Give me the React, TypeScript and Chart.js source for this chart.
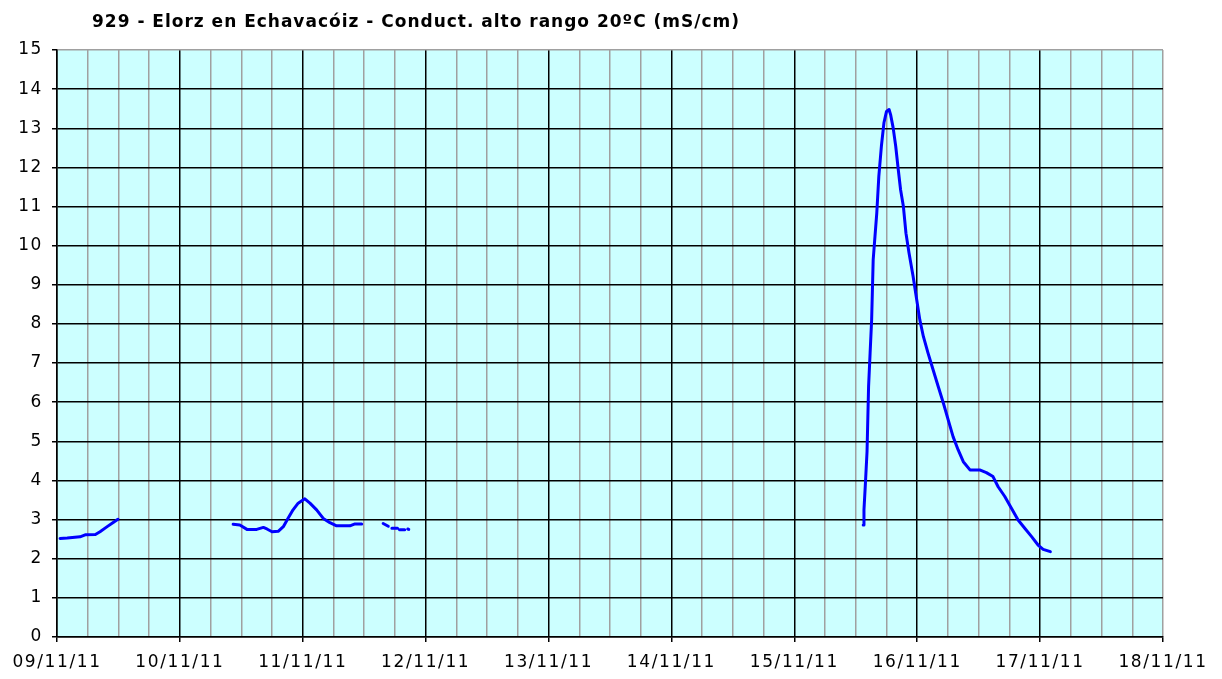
import { useEffect, useRef } from "react";
import { Chart, registerables } from "chart.js";

Chart.register(...registerables);

const TITLE = "929 - Elorz en Echavacóiz - Conduct. alto rango 20ºC (mS/cm)";
const dateLabels = ["09/11/11", "10/11/11", "11/11/11", "12/11/11", "13/11/11", "14/11/11", "15/11/11", "16/11/11", "17/11/11", "18/11/11"];

// hours since 09/11/11 00:00, null value = gap in the record
const hours = [
  0.6, 2, 3.5, 4.5, 5.5, 7.5, 8.4, 9.8, 10.9, 11.9, 20,
  34.4, 35.7, 37.1, 39.0, 40.3, 41.0, 42.0, 43.2, 44.2, 45.1, 46.1, 47.1, 48.4, 49.4, 50.7, 52.0, 53.3, 54.6, 57.2, 58.2, 59.5, 61,
  63.7, 64.7, 65, 65.4, 66.5, 66.7, 66.9, 67.9, 68.2, 68.5, 68.7, 100,
  157.45, 157.6, 157.9, 158.2, 158.5, 158.8, 159.1, 159.4, 159.75, 160.1, 160.5, 161.0, 161.5, 162.0, 162.5, 162.8, 163.3, 163.8,
  164.3, 164.75, 165.3, 165.8, 166.4, 167.2, 167.9, 168.5, 169.2, 170.1, 171.1, 172.1, 173.1, 174.05, 175.0, 176.0, 177.0, 178.3,
  180.2, 181.5, 182.8, 183.8, 185.1, 186.4, 187.7, 189.0, 190.3, 191.6, 192.6, 194.0,
];
const values = [
  2.52, 2.53, 2.55, 2.56, 2.61, 2.62, 2.69, 2.82, 2.92, 3.01, null,
  2.88, 2.86, 2.75, 2.75, 2.80, 2.76, 2.69, 2.70, 2.82, 3.03, 3.25, 3.42, 3.53, 3.42, 3.25, 3.03, 2.92, 2.84, 2.84, 2.89, 2.89, null,
  2.90, 2.83, null, 2.78, 2.78, null, 2.74, 2.74, null, 2.76, 2.75, null,
  2.86, 3.25, 3.97, 4.74, 6.40, 7.26, 8.11, 9.64, 10.24, 10.83, 11.77, 12.54, 13.14, 13.43, 13.48, 13.35, 13.01, 12.54,
  11.94, 11.43, 11.0, 10.32, 9.81, 9.21, 8.62, 8.11, 7.68, 7.26, 6.83, 6.40, 5.98, 5.55, 5.12, 4.78, 4.48, 4.27,
  4.27, 4.20, 4.10, 3.84, 3.59, 3.29, 2.99, 2.78, 2.57, 2.35, 2.24, 2.18,
];

const FONT = "'DejaVu Sans', Verdana, sans-serif";

export default function App() {
  const ref = useRef<HTMLCanvasElement | null>(null);

  useEffect(() => {
    if (!ref.current) return;
    const bgPlugin = {
      id: "bg",
      beforeDraw(chart: any) {
        const { ctx, chartArea } = chart;
        ctx.save();
        ctx.fillStyle = "#ccffff";
        ctx.fillRect(chartArea.left, chartArea.top, chartArea.right - chartArea.left, chartArea.bottom - chartArea.top);
        ctx.restore();
        (ctx as any).letterSpacing = "1.6px";
      },
    };
    const titlePlugin = {
      id: "leftTitle",
      afterDraw(chart: any) {
        const ctx = chart.ctx;
        ctx.save();
        ctx.fillStyle = "#000";
        ctx.font = `bold 17px ${FONT}`;
        (ctx as any).letterSpacing = "0px";
        const w = ctx.measureText(TITLE).width;
        const ls = (648 - w) / TITLE.length;
        (ctx as any).letterSpacing = `${ls}px`;
        ctx.textBaseline = "alphabetic";
        ctx.textAlign = "left";
        ctx.fillText(TITLE, 92, 27);
        ctx.restore();
      },
    };
    const chart = new Chart(ref.current, {
      type: "line",
      data: {
        datasets: [
          {
            data: hours.map((h, i) => ({ x: h, y: values[i] })) as any,
            borderColor: "#0000ff",
            borderWidth: 3,
            pointRadius: 0,
            tension: 0,
            spanGaps: false,
            borderJoinStyle: "round",
            borderCapStyle: "round",
          },
        ],
      },
      options: {
        responsive: false,
        animation: false,
        layout: { padding: { top: 50, left: 0, right: 59, bottom: 0 } },
        plugins: { legend: { display: false }, title: { display: false }, tooltip: { enabled: false } },
        scales: {
          x: {
            type: "linear",
            min: 0,
            max: 216,
            afterFit: (s: any) => { s.height = 42; },
            afterBuildTicks: (s: any) => {
              const t = [];
              for (let v = 0; v <= 216; v += 6) t.push({ value: v });
              s.ticks = t;
            },
            ticks: {
              autoSkip: false,
              maxRotation: 0,
              padding: 10,
              color: "#000",
              font: { family: FONT, size: 17 },
              callback: (v: any) => (Number(v) % 24 === 0 ? dateLabels[Number(v) / 24] : ""),
            },
            grid: {
              color: (c: any) => (c.tick && c.tick.value % 24 === 0 && c.tick.value !== 216 ? "#000" : "#a0a0a0"),
              tickColor: (c: any) => (c.tick && c.tick.value % 24 === 0 ? "#000" : "rgba(0,0,0,0)"),
              lineWidth: 1.5,
              tickLength: 5,
            },
            border: { display: true, color: "#000", width: 1.5 },
          },
          y: {
            min: 0,
            max: 15,
            afterFit: (s: any) => { s.width = 57; },
            ticks: {
              stepSize: 1,
              padding: 9,
              color: "#000",
              font: { family: FONT, size: 17 },
            },
            grid: {
              color: (c: any) => (c.tick && c.tick.value === 15 ? "#a0a0a0" : "#000"),
              tickColor: "#000",
              lineWidth: 1.5,
              tickLength: 5,
            },
            border: { display: true, color: "#000", width: 1.5 },
          },
        },
      },
      plugins: [bgPlugin, titlePlugin],
    });
    return () => chart.destroy();
  }, []);

  return (
    <div style={{ position: "fixed", left: 0, top: 0, width: 1222, height: 679, background: "#fff" }}>
      <canvas ref={ref} width={1222} height={679} style={{ display: "block" }} />
    </div>
  );
}
